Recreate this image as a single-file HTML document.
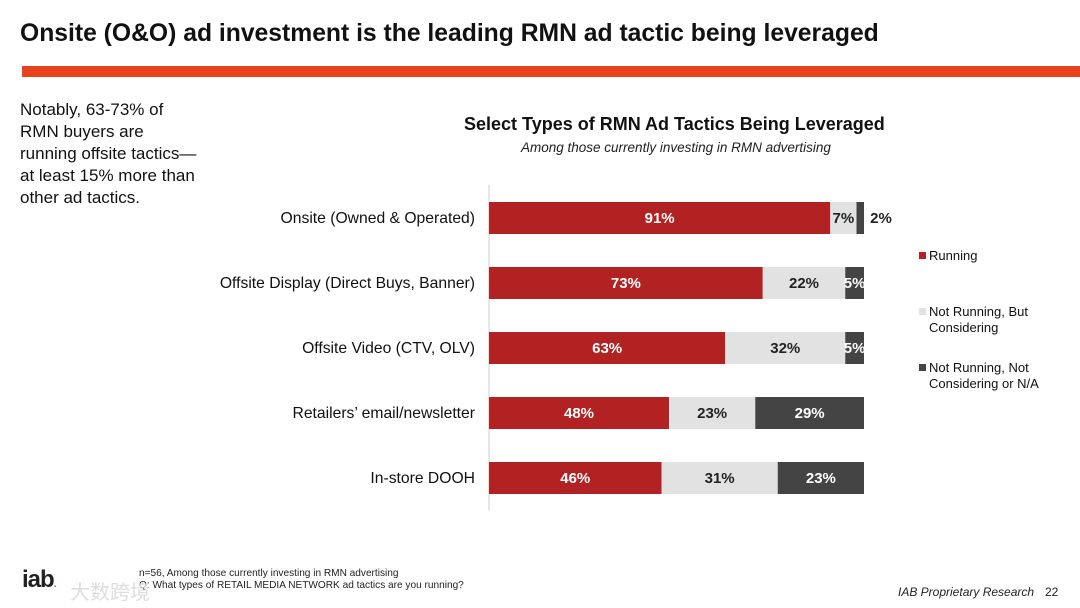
<!DOCTYPE html>
<html><head><meta charset="utf-8"><style>
body{margin:0;width:1080px;height:608px;background:#fff;font-family:"Liberation Sans","Noto Sans CJK SC",sans-serif;overflow:hidden;position:relative}
.a{position:absolute;white-space:nowrap}
</style></head><body>
<div class="a" style="left:20px;top:20px;font-size:24.7px;font-weight:bold;color:#111">Onsite (O&amp;O) ad investment is the leading RMN ad tactic being leveraged</div>
<div class="a" style="left:22px;top:66px;width:1058px;height:11px;background:#e8431c"></div>
<div class="a" style="left:20px;top:99px;font-size:17px;line-height:22px;color:#111">Notably, 63-73% of<br>RMN buyers are<br>running offsite tactics—<br>at least 15% more than<br>other ad tactics.</div>
<div class="a" style="left:464px;top:114px;font-size:18px;font-weight:bold;color:#111">Select Types of RMN Ad Tactics Being Leveraged</div>
<div class="a" style="left:521px;top:140px;font-size:13.5px;font-style:italic;color:#222">Among those currently investing in RMN advertising</div>
<svg id="c" class="a" style="left:0;top:0" width="1080" height="608"></svg>
<div class="a" style="left:139px;top:568px;font-size:10.1px;line-height:12px;color:#222">n=56, Among those currently investing in RMN advertising<br>Q: What types of RETAIL MEDIA NETWORK ad tactics are you running?</div>
<div class="a" style="left:22px;top:566px;font-size:24px;font-weight:bold;color:#222;letter-spacing:-1px">iab<span style="color:#e8431c;font-size:10px">.</span></div>
<div class="a" style="left:70px;top:576px;font-size:20px;color:#ddd">大数跨境</div>
<div class="a" style="left:898px;top:585px;font-size:12px;font-style:italic;color:#222">IAB Proprietary Research</div>
<div class="a" style="left:1045px;top:585px;font-size:12px;color:#222">22</div>
<script>
const categories=["Onsite (Owned & Operated)","Offsite Display (Direct Buys, Banner)","Offsite Video (CTV, OLV)","Retailers’ email/newsletter","In-store DOOH"];
const running=[91,73,63,48,46];
const considering=[7,22,32,23,31];
const notConsidering=[2,5,5,29,23];
const seriesNames=["Running","Not Running, But Considering","Not Running, Not Considering or N/A"];
const NS="http://www.w3.org/2000/svg",svg=document.getElementById('c');
const x0=489,scale=3.75,y0=218,step=65,bh=32;
const X=v=>x0+v*scale, Y=i=>y0+i*step;
const colors=["#b22222","#e2e2e2","#444"],tcol=["#fff","#222","#fff"];
function mk(t,a){const e=document.createElementNS(NS,t);for(const k in a)e.setAttribute(k,a[k]);svg.appendChild(e);return e;}
const ax=mk('line',{x1:x0,x2:x0,y1:185,y2:510,stroke:'#ccc'});


const series=[running,considering,notConsidering];
categories.forEach((c,i)=>{
 const l=mk('text',{x:475,y:Y(i)+5,'text-anchor':'end','font-size':15.7,fill:'#111'});l.textContent=c;
 
 
 let acc=0;
 series.forEach((s,j)=>{
  const v=s[i];
  const r=mk('rect',{x:X(acc),y:Y(i)-bh/2,width:v*scale,height:bh,fill:colors[j]});
  
  
  const small=v<4;
  const t=mk('text',{x:small?X(acc+v)+17:X(acc+v/2),y:Y(i)+5,'text-anchor':'middle','font-size':15,'font-weight':'bold',fill:small?'#222':tcol[j]});
  t.textContent=v+'%';
  
  
  acc+=v;
 });
});
const ly=[256,312,368];
seriesNames.forEach((n,j)=>{
 const r=mk('rect',{x:919,y:ly[j]-4,width:7,height:7,fill:colors[j]});
 
 
 const parts=j==0?[n]:j==1?["Not Running, But","Considering"]:["Not Running, Not","Considering or N/A"];
 parts.forEach((p,k)=>{const t=mk('text',{x:929,y:ly[j]+4+k*16,'font-size':13,fill:'#111'});t.textContent=p;
  
  });
});
</script>
</body></html>
